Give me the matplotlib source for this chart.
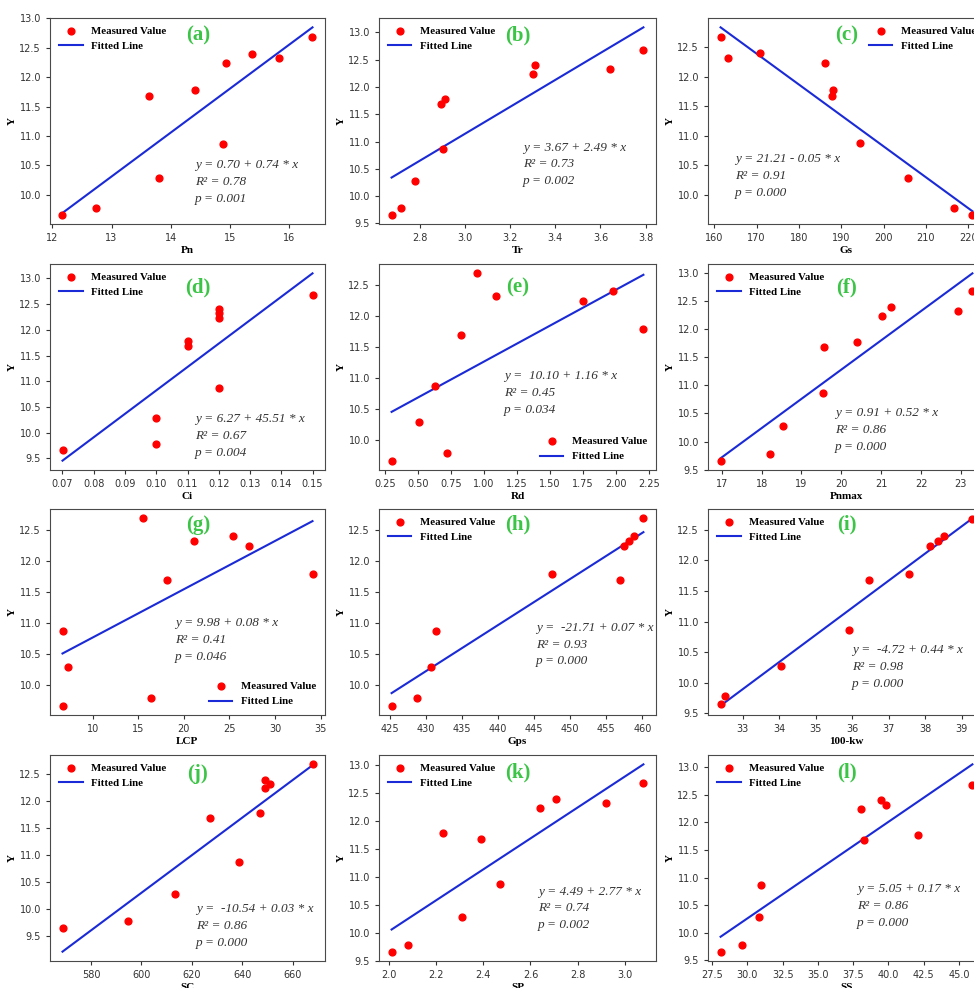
import numpy as np
import matplotlib
matplotlib.use('Agg')
from matplotlib import pyplot as plt

# shared response values (Y)
y_vals = [9.66, 9.78, 10.28, 10.87, 11.68, 11.78, 12.24, 12.32, 12.40, 12.68]

# predictor values, same order as y_vals
pn = [12.17, 12.74, 13.80, 14.88, 13.64, 14.41, 14.94, 15.83, 15.38, 16.40]
tr = [2.675, 2.716, 2.779, 2.904, 2.893, 2.913, 3.30, 3.64, 3.31, 3.79]
gs = [221.0, 216.6, 205.7, 194.4, 187.8, 188.0, 186.1, 163.2, 170.9, 161.5]
ci = [0.07, 0.10, 0.10, 0.12, 0.11, 0.11, 0.12, 0.12, 0.12, 0.15]
rd = [0.30, 0.72, 0.51, 0.63, 0.83, 2.21, 1.75, 1.09, 1.98, 0.95]
pnmax = [16.97, 18.21, 18.54, 19.54, 19.57, 20.40, 21.02, 22.93, 21.24, 23.29]
lcp = [6.7, 16.4, 7.3, 6.7, 18.15, 34.1, 27.1, 21.06, 25.35, 15.57]
gps = [425.2, 428.7, 430.65, 431.4, 456.9, 447.4, 457.45, 458.2, 458.85, 460.15]
kw = [32.39, 32.52, 34.04, 35.92, 36.45, 37.55, 38.14, 38.34, 38.52, 39.29]
sc = [568.7, 594.6, 613.3, 638.6, 627.3, 647.2, 648.9, 650.9, 649.0, 667.9]
sp = [2.01, 2.08, 2.31, 2.47, 2.39, 2.23, 2.64, 2.92, 2.71, 3.08]
ss = [28.1, 29.65, 30.85, 30.98, 38.3, 42.1, 38.05, 39.8, 39.5, 45.95]

x_names = ['Pn', 'Tr', 'Gs', 'Ci', 'Rd', 'Pnmax', 'LCP', 'Gps', '100-kw', 'SC', 'SP', 'SS']
x_data = [pn, tr, gs, ci, rd, pnmax, lcp, gps, kw, sc, sp, ss]
panel_tags = ['(a)', '(b)', '(c)', '(d)', '(e)', '(f)', '(g)', '(h)', '(i)', '(j)', '(k)', '(l)']
equations = ['y = 0.70 + 0.74 * x', 'y = 3.67 + 2.49 * x', 'y = 21.21 - 0.05 * x',
             'y = 6.27 + 45.51 * x', 'y =  10.10 + 1.16 * x', 'y = 0.91 + 0.52 * x',
             'y = 9.98 + 0.08 * x', 'y =  -21.71 + 0.07 * x', 'y =  -4.72 + 0.44 * x',
             'y =  -10.54 + 0.03 * x', 'y = 4.49 + 2.77 * x', 'y = 5.05 + 0.17 * x']
r2_vals = ['0.78', '0.73', '0.91', '0.67', '0.45', '0.86', '0.41', '0.93', '0.98', '0.86', '0.74', '0.86']
p_vals = ['0.001', '0.002', '0.000', '0.004', '0.034', '0.000', '0.046', '0.000', '0.000', '0.000', '0.002', '0.000']

# layout (pixels) and text placement (axes fraction)
col_left = [50, 379, 708]
col_width = [275, 277, 277]
row_top = [18, 264, 509, 755]
row_h = 206
eq_pos = [(0.527, 0.206), (0.52, 0.289), (0.097, 0.235),
          (0.527, 0.163), (0.45, 0.375), (0.458, 0.192),
          (0.455, 0.365), (0.567, 0.342), (0.52, 0.235),
          (0.53, 0.172), (0.574, 0.255), (0.538, 0.269)]
tag_pos = [(0.538, 0.913), (0.50, 0.913), (0.50, 0.913),
           (0.538, 0.888), (0.50, 0.888), (0.50, 0.888),
           (0.538, 0.922), (0.50, 0.927), (0.50, 0.927),
           (0.538, 0.908), (0.50, 0.917), (0.50, 0.917)]
leg_loc = ['upper left', 'upper left', 'upper right', 'upper left', 'lower right', 'upper left',
           'lower right', 'upper left', 'upper left', 'upper left', 'upper left', 'upper left']

W, H = 974, 988
fig = plt.figure(figsize=(W / 100, H / 100), dpi=100)
serif = 'Liberation Serif'

for i in range(12):
    r, c = divmod(i, 3)
    ax = fig.add_axes([col_left[c] / W, 1 - (row_top[r] + row_h) / H, col_width[c] / W, row_h / H])
    x = np.array(x_data[i])
    y = np.array(y_vals)
    k, b = np.polyfit(x, y, 1)
    xs = np.array([x.min(), x.max()])
    ax.scatter(x, y, color='red', s=24, zorder=3, label='Measured Value')
    ax.plot(xs, b + k * xs, color='#1a2ad6', lw=1.5, label='Fitted Line')
    ax.set_xlabel(x_names[i], fontfamily=serif, fontweight='bold', fontsize=8, labelpad=2)
    ax.set_ylabel('Y', fontfamily=serif, fontweight='bold', fontsize=8, labelpad=2)
    ax.tick_params(labelsize=7, colors='#333333', length=3)
    for s in ax.spines.values():
        s.set_color('#4a4a4a')
    ax.legend(loc=leg_loc[i], frameon=False, prop={'family': serif, 'weight': 'bold', 'size': 7.8},
              handlelength=2.2, borderaxespad=0.4)
    ax.text(tag_pos[i][0], tag_pos[i][1], panel_tags[i], transform=ax.transAxes, ha='center', va='center',
            color='#3cc447', fontfamily=serif, fontweight='bold', fontsize=15)
    txt = f'{equations[i]}\nR\u00b2 = {r2_vals[i]}\np = {p_vals[i]}'
    ax.text(eq_pos[i][0], eq_pos[i][1], txt, transform=ax.transAxes, ha='left', va='center',
            color='#333333', fontfamily=serif, fontstyle='italic', fontsize=9.5, linespacing=1.55)

fig.savefig('out.png', dpi=100)
